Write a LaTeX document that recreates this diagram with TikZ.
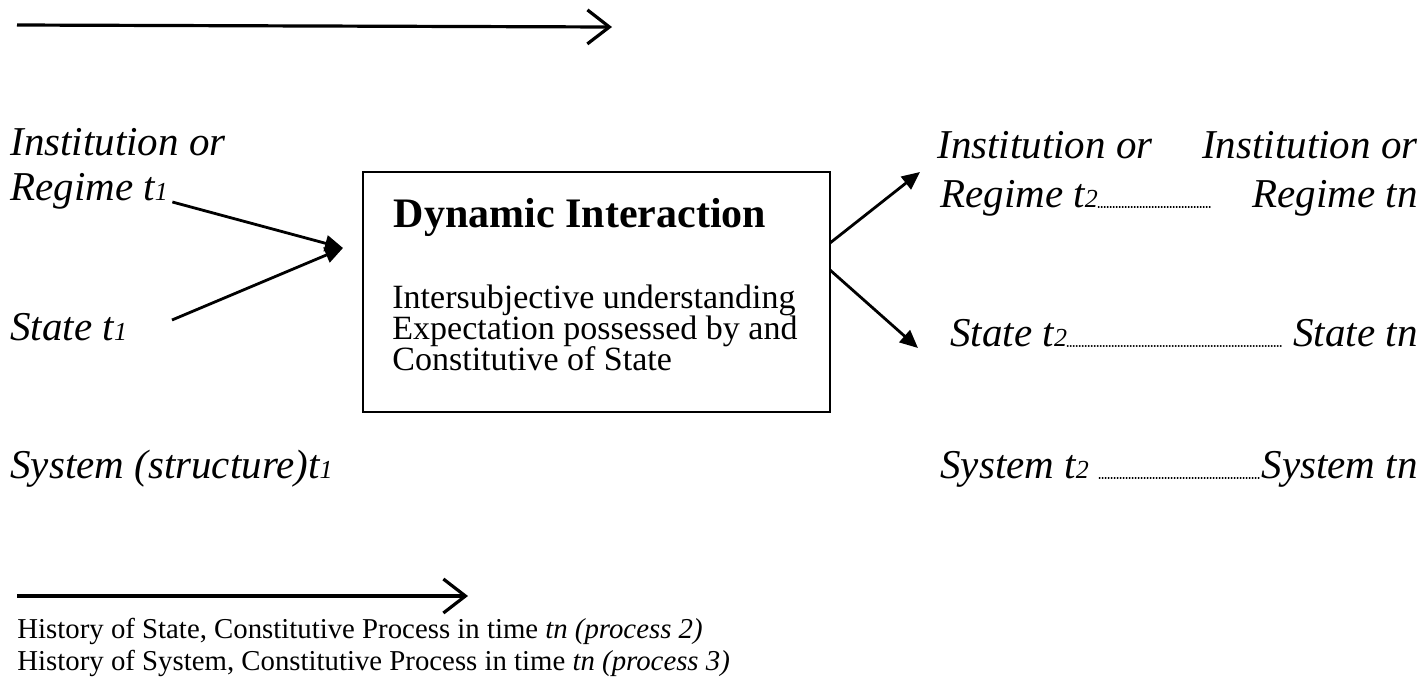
\documentclass[tikz,border=0pt]{standalone}
\usepackage{fontspec}
\setmainfont{Liberation Serif}
\usetikzlibrary{arrows.meta}
% small figure after a time variable, as in t1, t2
\newcommand{\tix}[1]{{\fontsize{13pt}{13pt}\selectfont #1}}
% keep a fixed baseline distance even where lines come close
\newcommand{\tightlines}{\setlength{\lineskiplimit}{-20pt}}
\begin{document}
\begin{tikzpicture}[x=0.5pt,y=-0.5pt,
  lab/.style={font=\fontsize{20.5pt}{24pt}\selectfont\itshape, inner sep=0pt},
  bodytxt/.style={font=\fontsize{17pt}{15.6pt}\selectfont\tightlines, inner sep=0pt, align=left},
  histtxt/.style={font=\fontsize{14.4pt}{17pt}\selectfont, inner sep=0pt, anchor=base west},
  flow/.style={line width=1.4pt, -{Triangle[length=9pt,width=8pt]}},
  timeline/.style={line width=1.6pt, -{Straight Barb[length=11pt,width=17pt,line width=1.6pt]}},
  trail/.style={line width=0.7pt, line cap=round, dash pattern=on 0.3pt off 1.2pt},
  framebox/.style={draw, line width=1.3pt, minimum width=233.5pt, minimum height=120pt, inner sep=0pt}]
\useasboundingbox (0,0) rectangle (1421,687);

% time lines
\coordinate (ta) at (17,25);
\coordinate (tb) at (612,27);
\draw[timeline] (ta) -- (tb);
\coordinate (ba) at (17,596);
\coordinate (bb) at (468,596);
\draw[timeline] (ba) -- (bb);

% inputs at t1
\node[lab, anchor=base west] (in1) at (10,155) {Institution or};
\node[lab, anchor=base west] (re1) at (10,200) {Regime t\tix{1}};
\node[lab, anchor=base west] (st1) at (10,340) {State t\tix{1}};
\node[lab, anchor=base west] (sy1) at (10,478) {System (structure)t\tix{1}};

% central box
\node[framebox] (box) at (596.5,292) {};
\node[font=\fontsize{21pt}{24pt}\selectfont\bfseries, inner sep=0pt, anchor=base] (title) at (580,227) {Dynamic Interaction};
\node[bodytxt, anchor=north west] (body) at (392,284)
  {Intersubjective understanding\\Expectation possessed by and\\Constitutive of State};

% arrows into the box
\coordinate (inA) at (343,248);
\draw[flow] ([xshift=2pt,yshift=-1pt]re1.base east) -- (inA);
\draw[flow] (172,320) -- (inA);

% outputs at t2 ... tn
\node[lab, anchor=base west] (in2) at (937,158) {Institution or};
\node[lab, anchor=base east] (inn) at (1418,158) {Institution or};
\node[lab, anchor=base west] (re2) at (940,207) {Regime t\tix{2}};
\node[lab, anchor=base east] (ren) at (1418,207) {Regime tn};
\node[lab, anchor=base west] (st2) at (950,346) {State t\tix{2}};
\node[lab, anchor=base east] (stn) at (1418,346) {State tn};
\node[lab, anchor=base west] (sy2) at (940,478) {System t\tix{2}};
\node[lab, anchor=base east] (syn) at (1418,478) {System tn};

\draw[trail] (re2.base east) -- ([xshift=-20pt]ren.base west);
\draw[trail] (st2.base east) -- ([xshift=-6pt]stn.base west);
\draw[trail] ([xshift=5pt]sy2.base east) -- ([xshift=-1pt]syn.base west);

% arrows out of the box
\coordinate (outA) at (830,243);
\coordinate (outB) at (830,270);
\draw[flow] (outA) -- (920,172);
\draw[flow] (outB) -- (918,348);

% history notes
\node[histtxt] (h1) at (17,638) {History of State, Constitutive Process in time \textit{tn (process 2)}};
\node[histtxt] (h2) at (17,670) {History of System, Constitutive Process in time \textit{tn (process 3)}};
\end{tikzpicture}
\end{document}
